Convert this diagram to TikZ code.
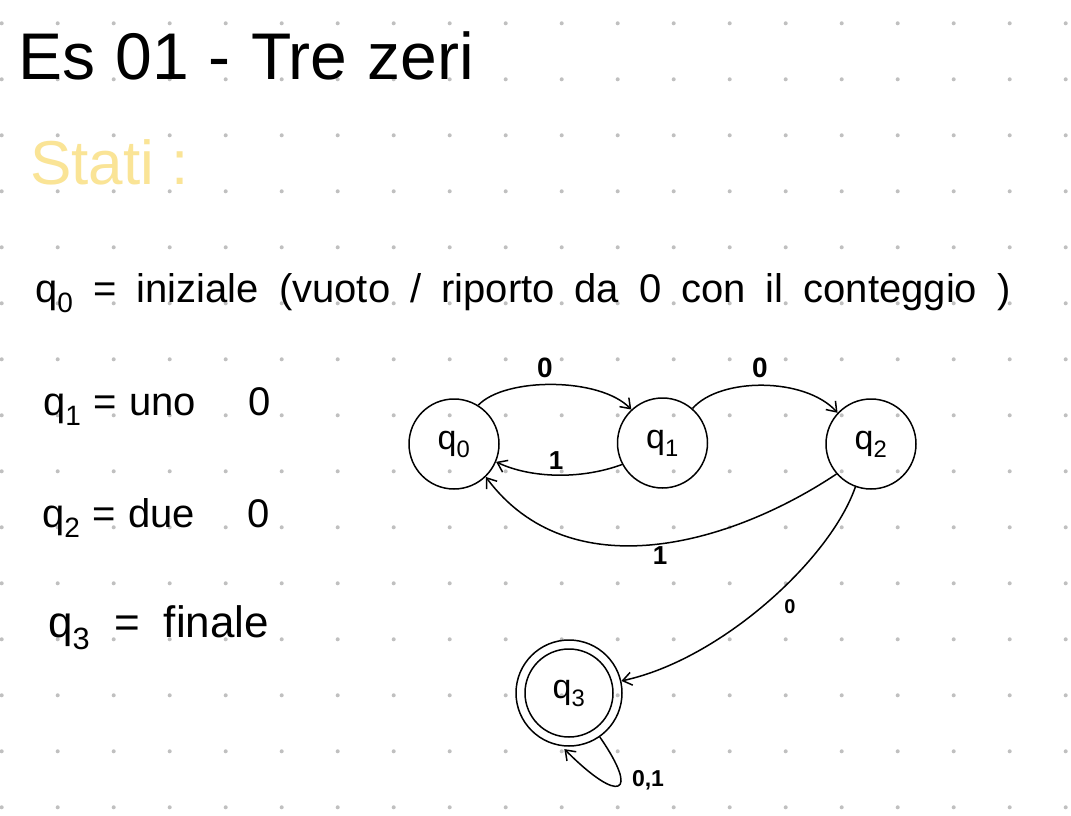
\documentclass[tikz,border=0pt]{standalone}
\usepackage{fontspec}
\setmainfont{Liberation Sans}
\newfontfamily\wsB[WordSpace=2.6]{Liberation Sans}
\newfontfamily\wsT[WordSpace=1.1]{Liberation Sans}
\usetikzlibrary{arrows.meta}
\definecolor{dotgray}{RGB}{192,192,192}
\definecolor{statiyellow}{RGB}{250,228,150}
\begin{document}
\begin{tikzpicture}[x=1pt,y=-1pt,
  state/.style={circle,draw,line width=1.5pt,minimum size=90pt,inner sep=0pt,font=\fontsize{34}{34}\selectfont},
  arr/.style={line width=1.5pt,-{Straight Barb[length=9pt,width=13pt,line width=1.5pt]}},
  lbl/.style={inner sep=0pt,font=\bfseries\fontsize{28}{28}\selectfont},
  txt/.style={anchor=base west,inner sep=0pt,font=\fontsize{40}{40}\selectfont}]
\useasboundingbox (0,0) rectangle (1071,816);
\fill[white] (0,0) rectangle (1071,816);
\foreach \i in {0,...,19}{\foreach \j in {0,...,14}{\fill[dotgray] (1.7+56*\i,23.3+56*\j) circle[radius=2pt];}}
% texts
\node[txt,font=\wsT\fontsize{66}{66}\selectfont] (title) at (18,80) {Es 01 - Tre zeri};
\node[txt,text=statiyellow,font=\fontsize{62}{62}\selectfont] (stati) at (30,184) {Stati :};
\node[txt] (l0) at (35,302) {\spaceskip=20pt\relax q\textsubscript{0} = iniziale (vuoto / riporto da 0 con il conteggio )};
\node[txt,font=\wsB\fontsize{40}{40}\selectfont] (l1) at (43,415) {q\textsubscript{1} = uno \quad 0};
\node[txt,font=\wsB\fontsize{40}{40}\selectfont] (l2) at (42,527) {q\textsubscript{2} = due \quad 0};
\node[txt,font=\fontsize{44}{44}\selectfont] (l3) at (48,637) {\spaceskip=24pt\relax q\textsubscript{3} = finale};
% states
\node[state] (q0) at (454,444) {q\textsubscript{0}};
\node[state] (q1) at (662.5,443) {q\textsubscript{1}};
\node[state] (q2) at (871,444) {q\textsubscript{2}};
\node[state,minimum size=106pt] (q3) at (569,693) {q\textsubscript{3}};
\draw[line width=1.5pt] (q3) circle[radius=44pt];
% transitions
\draw[arr] (q0.58) .. controls (505,377) and (600,377) .. (q1.133);
\draw[arr] (q1.49) .. controls (720,377) and (805,377) .. (q2.137);
\draw[arr] (q1.208) .. controls (580,480) and (530,478) .. (q0.337);
\draw[arr] (q2.221) .. controls (730,545) and (570,590) .. (q0.314);
\draw[arr] (q2.250) .. controls (830,560) and (720,660) .. (q3.13);
\draw[arr,shorten >=4pt] (q3.305) .. controls (640,795) and (620,805) .. (q3.262);
% labels
\node[lbl] (a01) at (545,368) {0};
\node[lbl] (a12) at (760,368) {0};
\node[lbl,font=\bfseries\fontsize{26}{26}\selectfont] (a10) at (556,461) {1};
\node[lbl,font=\bfseries\fontsize{26}{26}\selectfont] (a20) at (660,556) {1};
\node[lbl,font=\bfseries\fontsize{20}{20}\selectfont] (a23) at (790,607) {0};
\node[lbl,font=\bfseries\fontsize{23}{23}\selectfont] (a33) at (648,780) {0,1};
\end{tikzpicture}
\end{document}
